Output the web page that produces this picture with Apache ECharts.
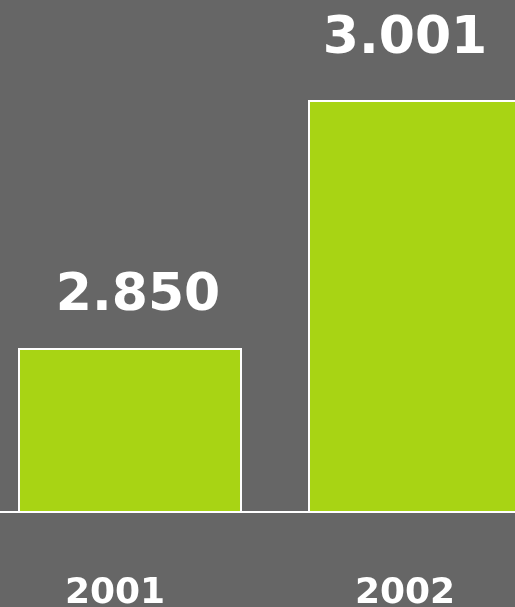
<!DOCTYPE html>
<html>
<head>
<meta charset="utf-8">
<script src="https://cdn.jsdelivr.net/npm/echarts@6/dist/echarts.min.js"></script>
<style>
  html, body { margin: 0; padding: 0; background: #666666; }
  #chart { width: 515px; height: 607px; }
</style>
</head>
<body>
<div id="chart"></div>
<script>
// data
var years = ['2001', '2002']
var values = [2.850, 3.001]
// label nudges so the numbers sit where the original puts them
var labelOffsets = [[8, 5], [-15, -5]]

var myChart = echarts.init(document.getElementById('chart'))

var option = {
  backgroundColor: '#666666',
  animation: false,
  grid: { left: -15, top: 0, width: 580, height: 512, outerBoundsMode: 'none', containLabel: false },
  xAxis: {
    type: 'category',
    data: years,
    axisLine: { lineStyle: { color: '#ffffff', width: 2 } },
    axisTick: { show: false },
    axisLabel: {
      color: '#ffffff',
      fontFamily: 'DejaVu Sans',
      fontWeight: 'bold',
      fontSize: 36,
      margin: 64,
      padding: [0, 30, 0, 0]
    }
  },
  yAxis: {
    type: 'value',
    min: 2.75,
    max: 3.062,
    show: false,
    splitLine: { show: false }
  },
  series: [
    {
      type: 'bar',
      barWidth: 224,
      data: values.map(function (v, i) {
        return {
          value: v,
          label: { offset: labelOffsets[i] }
        }
      }),
      itemStyle: {
        color: '#a8d414',
        borderColor: '#ffffff',
        borderWidth: 2
      },
      label: {
        show: true,
        position: 'top',
        distance: 30,
        color: '#ffffff',
        fontFamily: 'DejaVu Sans',
        fontWeight: 'bold',
        fontSize: 52,
        formatter: function (p) {
          return p.value.toFixed(3)
        }
      }
    }
  ]
}

myChart.setOption(option)
</script>
</body>
</html>
